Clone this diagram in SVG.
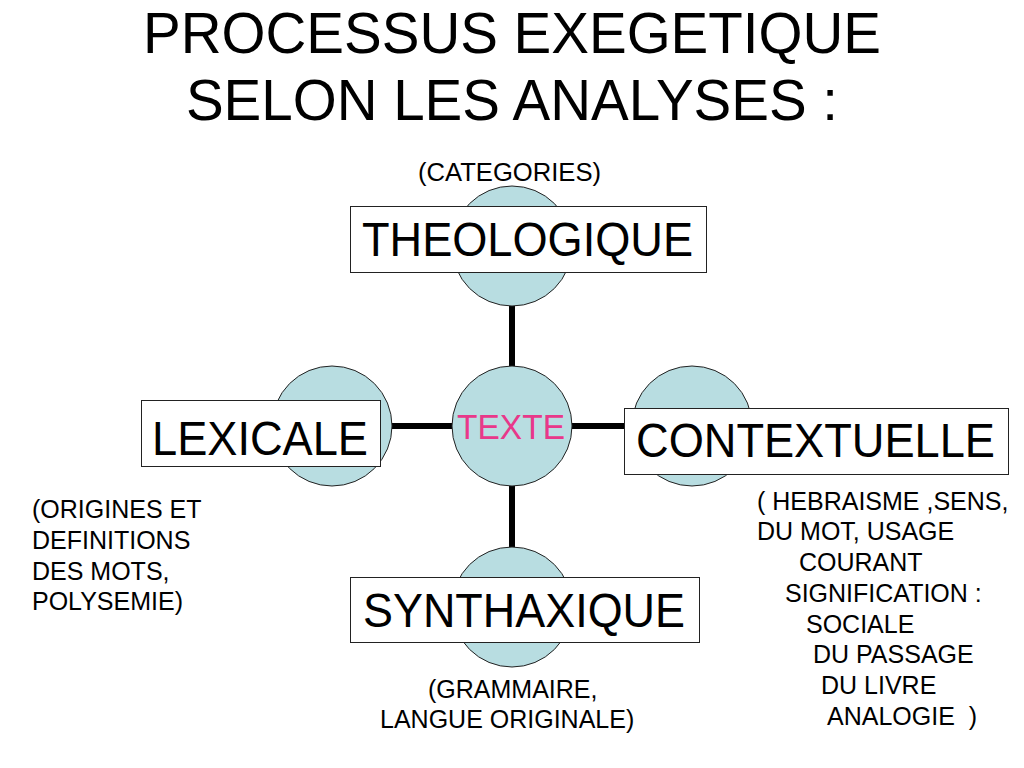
<svg xmlns="http://www.w3.org/2000/svg" width="1024" height="768" viewBox="0 0 1024 768">
<style>
text{font-family:"Liberation Sans",Arial,sans-serif;fill:#000}
.circ{fill:#B8DDE1;stroke:#222;stroke-width:1}
.box{fill:#fff;stroke:#222;stroke-width:1}
.lbl{font-size:48px}
.note{font-size:25px}
.conn{stroke:#000;stroke-width:6;fill:none}
</style>
<rect width="1024" height="768" fill="#fff"/>
<g id="title">
<text x="512" y="53" font-size="56.5" text-anchor="middle">PROCESSUS EXEGETIQUE</text>
<text x="512" y="120" font-size="56.5" text-anchor="middle">SELON LES ANALYSES :</text>
</g>
<g id="connectors">
<line class="conn" x1="512" y1="306" x2="512" y2="366"/>
<line class="conn" x1="512" y1="486" x2="512" y2="547"/>
<line class="conn" x1="392" y1="426" x2="452" y2="426"/>
<line class="conn" x1="572" y1="426" x2="632" y2="426"/>
</g>
<g id="texte">
<circle class="circ" cx="512" cy="426" r="60"/>
<text x="457" y="439" font-size="35" textLength="108" lengthAdjust="spacingAndGlyphs" style="fill:#E8388A">TEXTE</text>
</g>
<g id="theologique">
<circle class="circ" cx="512" cy="246" r="60"/>
<rect class="box" x="350.5" y="206.5" width="356" height="66"/>
<text class="lbl" x="362" y="256" textLength="331" lengthAdjust="spacingAndGlyphs">THEOLOGIQUE</text>
<text class="note" x="418" y="181" font-size="27" textLength="183" lengthAdjust="spacingAndGlyphs">(CATEGORIES)</text>
</g>
<g id="lexicale">
<circle class="circ" cx="332" cy="426" r="60"/>
<rect class="box" x="141.5" y="400.5" width="239" height="66"/>
<text class="lbl" x="152" y="455" textLength="216" lengthAdjust="spacingAndGlyphs">LEXICALE</text>
<text class="note" x="32" y="518">(ORIGINES ET</text>
<text class="note" x="32" y="549">DEFINITIONS</text>
<text class="note" x="32" y="580">DES MOTS,</text>
<text class="note" x="32" y="610">POLYSEMIE)</text>
</g>
<g id="contextuelle">
<circle class="circ" cx="692" cy="426" r="60"/>
<rect class="box" x="624.5" y="408.5" width="384" height="66"/>
<text class="lbl" x="636" y="457" textLength="359" lengthAdjust="spacingAndGlyphs">CONTEXTUELLE</text>
<text class="note" x="757" y="510">( HEBRAISME ,SENS,</text>
<text class="note" x="757" y="540">DU MOT, USAGE</text>
<text class="note" x="799" y="571">COURANT</text>
<text class="note" x="785" y="602">SIGNIFICATION :</text>
<text class="note" x="806" y="633">SOCIALE</text>
<text class="note" x="813" y="663">DU PASSAGE</text>
<text class="note" x="821" y="694">DU LIVRE</text>
<text class="note" x="827" y="725" xml:space="preserve">ANALOGIE  )</text>
</g>
<g id="synthaxique">
<circle class="circ" cx="512" cy="607" r="60"/>
<rect class="box" x="350.5" y="577.5" width="349" height="65"/>
<text class="lbl" x="363" y="627" textLength="322" lengthAdjust="spacingAndGlyphs">SYNTHAXIQUE</text>
<text class="note" x="428" y="698">(GRAMMAIRE,</text>
<text class="note" x="380" y="728">LANGUE ORIGINALE)</text>
</g>
</svg>
